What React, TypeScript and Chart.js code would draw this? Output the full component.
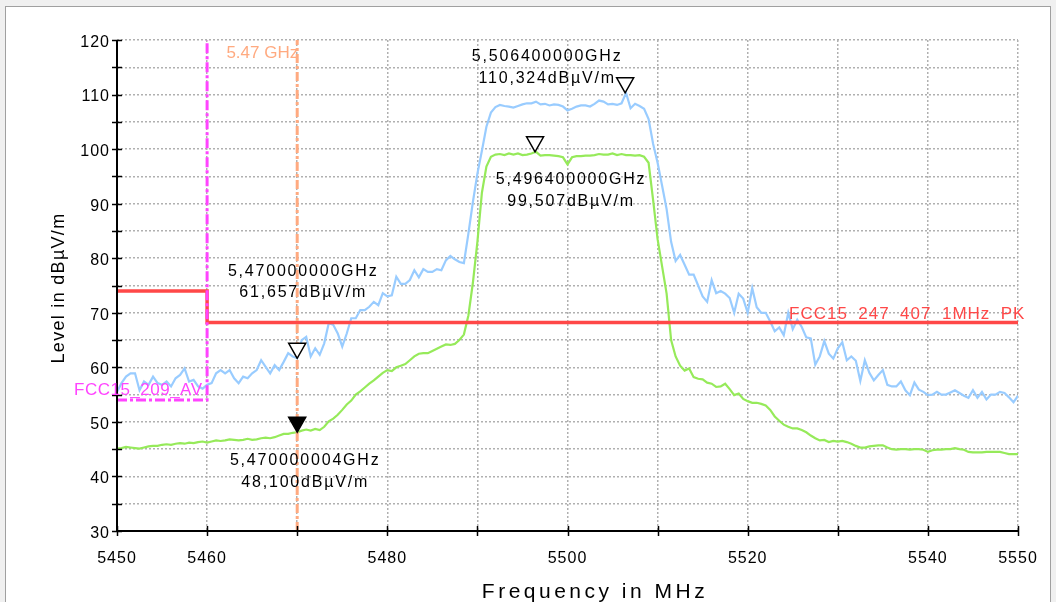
import React, { useEffect, useRef } from 'react';
import { Chart, registerables } from 'chart.js';

Chart.register(...registerables);

// ---------- data ----------
const FREQ_START = 5450; // MHz, first sample
const FREQ_STEP = 0.5; // MHz between samples

// Peak detector trace (dBµV/m), one value per 0.5 MHz from 5450 to 5550 MHz
const PEAK_TRACE = [
  55.5, 57.1, 58.3, 58.9, 58.9, 55.8, 57.4, 56.8, 58.3, 57.1,
  56.8, 57.4, 56.5, 58.0, 58.6, 59.8, 57.4, 57.7, 56.5, 56.1,
  56.8, 57.1, 58.9, 59.5, 58.9, 59.5, 58.0, 57.1, 58.3, 58.0,
  58.9, 59.5, 61.3, 60.1, 58.9, 60.4, 59.5, 61.0, 62.6, 62.0,
  61.7, 65.0, 65.6, 62.0, 63.5, 62.3, 64.4, 68.1, 67.8, 66.2,
  63.8, 66.2, 69.0, 69.0, 70.5, 70.5, 71.1, 72.0, 71.4, 73.6,
  73.0, 73.2, 76.6, 75.3, 75.3, 76.0, 77.8, 76.5, 78.0, 77.5,
  77.5, 78.0, 77.8, 79.6, 80.4, 79.8, 79.3, 79.1, 84.5, 90.3,
  95.5, 99.7, 104.1, 106.7, 107.7, 108.1, 107.9, 107.8, 107.6, 107.9,
  108.2, 108.4, 108.4, 108.7, 108.2, 108.3, 108.0, 108.2, 108.1, 107.8,
  107.1, 107.4, 107.8, 108.0, 108.0, 107.8, 108.3, 108.9, 108.7, 108.2,
  108.3, 108.1, 108.4, 110.3, 107.5, 108.3, 107.9, 107.4, 105.5, 101.0,
  97.5, 93.3, 89.0, 83.0, 79.5, 80.6, 78.8, 77.0, 77.0, 75.0,
  73.0, 72.0, 76.0, 73.6, 74.0, 73.5, 72.7, 70.0, 73.5, 72.6,
  70.0, 74.5, 71.0, 70.0, 70.0, 68.4, 66.6, 67.3, 65.9, 70.0,
  67.0, 68.7, 67.4, 65.5, 65.3, 60.5, 62.0, 64.8, 62.5, 61.6,
  63.5, 64.6, 61.3, 62.0, 61.2, 57.5, 61.3, 59.0, 57.6, 58.6,
  59.5, 56.8, 56.5, 56.5, 57.4, 55.8, 54.9, 57.2, 55.9, 55.5,
  54.9, 55.0, 55.5, 55.0, 55.0, 55.4, 55.8, 55.3, 54.8, 54.4,
  55.8, 54.4, 55.5, 54.1, 55.0, 55.0, 55.5, 55.3, 54.5, 53.6,
  54.8,
];

// Average detector trace (dBµV/m), same sampling
const AVG_TRACE = [
  45.1, 45.2, 45.4, 45.3, 45.2, 45.1, 45.3, 45.5, 45.6, 45.6,
  45.8, 45.9, 45.8, 46.0, 46.1, 46.0, 46.2, 46.1, 46.3, 46.4,
  46.2, 46.4, 46.6, 46.5, 46.6, 46.8, 46.7, 46.6, 46.7, 46.9,
  46.7, 46.8, 47.0, 47.1, 47.0, 47.2, 47.5, 47.8, 47.8, 48.0,
  48.1, 48.4, 48.6, 48.4, 48.7, 48.5, 49.1, 50.1, 50.6, 51.3,
  52.2, 53.2, 53.9, 55.0, 55.6, 56.3, 57.0, 57.6, 58.3, 59.0,
  59.5, 59.3, 60.0, 60.3, 60.6, 61.3, 62.0, 62.5, 62.6, 62.6,
  63.0, 63.4, 63.8, 64.2, 64.1, 64.3, 65.0, 66.0, 69.5, 75.5,
  83.0, 92.0, 96.8, 98.6, 99.0, 99.1, 98.9, 99.2, 99.0, 99.2,
  98.9, 99.0, 99.2, 99.5, 98.8, 98.9, 98.9, 98.8, 98.7, 98.5,
  97.2, 98.5, 98.7, 98.7, 98.8, 98.8, 98.9, 99.1, 99.0, 99.0,
  99.2, 98.9, 99.1, 98.9, 98.9, 98.8, 98.9, 98.6, 97.5, 90.7,
  83.5, 78.5, 73.5, 65.0, 62.0, 60.3, 59.4, 59.8, 58.2, 57.9,
  57.8, 57.2, 57.0, 56.4, 56.5, 57.0, 56.0, 54.9, 55.2, 54.2,
  53.8, 53.5, 53.5, 53.3, 53.0, 52.2, 51.0, 50.2, 49.5, 49.1,
  48.8, 48.8, 48.5, 48.1, 47.5, 47.0, 46.6, 46.7, 46.3, 46.5,
  46.4, 46.5, 46.3, 46.0, 45.6, 45.3, 45.3, 45.5, 45.6, 45.7,
  45.7, 45.3, 45.0, 44.9, 45.0, 45.0, 44.9, 45.0, 45.0, 44.9,
  44.5, 44.8, 44.9, 44.9, 45.0, 45.0, 45.2, 45.0, 44.9, 44.5,
  44.4, 44.4, 44.4, 44.5, 44.5, 44.5, 44.5, 44.3, 44.1, 44.1,
  44.1,
];

const X_MIN = 5450;
const X_MAX = 5550;
const Y_MIN = 30;
const Y_MAX = 120;
const X_TICK_LABELS = [5450, 5460, 5480, 5500, 5520, 5540, 5550];

const PK_LIMIT_NAME = 'FCC15_247_407_1MHz_PK';
const PK_LIMIT_FREQ = [5450, 5460, 5460, 5550];
const PK_LIMIT_LEVEL = [74, 74, 68.2, 68.2];

const AV_LIMIT_NAME = 'FCC15_209_AV';
const AV_LIMIT_FREQ = [5450, 5460, 5460];
const AV_LIMIT_LEVEL = [54, 54, 120];

const EDGE_NAME = '5.47 GHz';
const EDGE_FREQ = 5470;

const MARKER_FREQ = [5506.4, 5496.4, 5470.0, 5470.000004];
const MARKER_LEVEL = [110.324, 99.507, 61.657, 48.1];
const MARKER_FREQ_TEXT = ['5,506400000GHz', '5,496400000GHz', '5,470000000GHz', '5,470000004GHz'];
const MARKER_LEVEL_TEXT = ['110,324dBµV/m', '99,507dBµV/m', '61,657dBµV/m', '48,100dBµV/m'];
const MARKER_FILLED = [false, false, false, true];

// ---------- styles ----------
const FONT = '"Liberation Sans", Arial, sans-serif';
const C_PEAK = '#99ccff';
const C_AVG = '#96ea5a';
const C_RED = '#ff4848';
const C_MAGENTA = '#ff44ff';
const C_ORANGE = '#ffaa80';
// label offsets from marker tip (dx, dy line1, dy line2)
const MARKER_LABEL_OFFSET = [
  [-78, -36, -14],
  [36, 28, 50],
  [6, -87, -66],
  [8, 28, 50],
];

const toPoints = (vals: number[]) => vals.map((v, i) => ({ x: FREQ_START + i * FREQ_STEP, y: v }));
const zipPoints = (xs: number[], ys: number[]) => xs.map((x, i) => ({ x, y: ys[i] }));

const overlay = {
  id: 'overlay',
  beforeDraw(chart: any) {
    (chart.ctx as any).letterSpacing = '1px';
  },
  afterDraw(chart: any) {
    const ctx = chart.ctx as CanvasRenderingContext2D & { letterSpacing: string };
    const xs = chart.scales.x;
    const ys = chart.scales.y;
    const area = chart.chartArea;

    // axes with crossing ticks
    ctx.save();
    ctx.strokeStyle = '#000';
    ctx.lineWidth = 2;
    ctx.beginPath();
    ctx.moveTo(area.left, area.top);
    ctx.lineTo(area.left, area.bottom);
    ctx.lineTo(area.right, area.bottom);
    ctx.stroke();
    ctx.lineWidth = 1.5;
    for (let v = Y_MIN; v <= Y_MAX; v += 5) {
      const py = Math.round(ys.getPixelForValue(v)) + 0.5;
      ctx.beginPath();
      ctx.moveTo(area.left - 5, py);
      ctx.lineTo(area.left + 5, py);
      ctx.stroke();
    }
    for (let f = X_MIN; f <= X_MAX; f += 10) {
      const px = Math.round(xs.getPixelForValue(f)) + 0.5;
      ctx.beginPath();
      ctx.moveTo(px, area.bottom - 5);
      ctx.lineTo(px, area.bottom + 5);
      ctx.stroke();
    }
    ctx.restore();

    // limit / edge labels
    ctx.save();
    ctx.textBaseline = 'alphabetic';
    ctx.font = `17px ${FONT}`;
    ctx.letterSpacing = '1px';
    ctx.fillStyle = C_RED;
    ctx.textAlign = 'left';
    ctx.fillText(PK_LIMIT_NAME, 789, ys.getPixelForValue(PK_LIMIT_LEVEL[3]) - 3.5);
    ctx.letterSpacing = '0.5px';
    ctx.fillStyle = C_MAGENTA;
    ctx.fillText(AV_LIMIT_NAME, 74, ys.getPixelForValue(AV_LIMIT_LEVEL[0]) - 5.5);
    ctx.letterSpacing = '0px';
    ctx.fillStyle = C_ORANGE;
    ctx.textAlign = 'right';
    ctx.font = `17px ${FONT}`;
    ctx.fillText(EDGE_NAME, xs.getPixelForValue(EDGE_FREQ) + 1, area.top + 18);
    ctx.restore();

    // markers
    ctx.save();
    MARKER_FREQ.forEach((f, i) => {
      const px = xs.getPixelForValue(f);
      const py = ys.getPixelForValue(MARKER_LEVEL[i]);
      ctx.beginPath();
      ctx.moveTo(px, py);
      ctx.lineTo(px - 8.5, py - 15);
      ctx.lineTo(px + 8.5, py - 15);
      ctx.closePath();
      ctx.fillStyle = MARKER_FILLED[i] ? '#000' : '#fff';
      ctx.fill();
      ctx.lineWidth = 1.5;
      ctx.strokeStyle = '#000';
      ctx.stroke();
      const [dx, dy1, dy2] = MARKER_LABEL_OFFSET[i];
      ctx.fillStyle = '#000';
      ctx.font = `16px ${FONT}`;
      ctx.letterSpacing = '1.8px';
      ctx.textAlign = 'center';
      ctx.textBaseline = 'middle';
      ctx.fillText(MARKER_FREQ_TEXT[i], px + dx, py + dy1);
      ctx.fillText(MARKER_LEVEL_TEXT[i], px + dx, py + dy2);
    });
    ctx.restore();

    // axis titles
    ctx.save();
    ctx.fillStyle = '#000';
    ctx.font = `21px ${FONT}`;
    ctx.letterSpacing = '3.5px';
    ctx.textAlign = 'center';
    ctx.textBaseline = 'alphabetic';
    ctx.fillText('Frequency in MHz', 595, 598);
    ctx.translate(64, 288);
    ctx.rotate(-Math.PI / 2);
    ctx.font = `18px ${FONT}`;
    ctx.letterSpacing = '1.3px';
    ctx.fillText('Level in dBµV/m', 0, 0);
    ctx.restore();
  },
};

export default function App() {
  const ref = useRef<HTMLCanvasElement>(null);

  useEffect(() => {
    const canvas = ref.current;
    if (!canvas) return;
    Chart.defaults.font.family = FONT;
    const chart = new Chart(canvas, {
      type: 'line',
      data: {
        datasets: [
          {
            label: EDGE_NAME,
            data: [{ x: EDGE_FREQ, y: Y_MIN }, { x: EDGE_FREQ, y: Y_MAX }],
            borderColor: C_ORANGE,
            borderWidth: 3,
            borderDash: [9, 3, 3, 3],
            pointRadius: 0,
            order: 0,
          },
          {
            label: AV_LIMIT_NAME,
            data: zipPoints(AV_LIMIT_FREQ, AV_LIMIT_LEVEL),
            borderColor: C_MAGENTA,
            borderWidth: 3,
            borderDash: [10, 3, 3, 3],
            pointRadius: 0,
            order: 1,
          },
          {
            label: PK_LIMIT_NAME,
            data: zipPoints(PK_LIMIT_FREQ, PK_LIMIT_LEVEL),
            borderColor: C_RED,
            borderWidth: 3.5,
            pointRadius: 0,
            order: 2,
          },
          {
            label: 'AV',
            data: toPoints(AVG_TRACE),
            borderColor: C_AVG,
            borderWidth: 2.2,
            pointRadius: 0,
            order: 3,
          },
          {
            label: 'PK',
            data: toPoints(PEAK_TRACE),
            borderColor: C_PEAK,
            borderWidth: 2.2,
            pointRadius: 0,
            order: 4,
          },
        ],
      },
      options: {
        animation: false,
        responsive: false,
        devicePixelRatio: 1,
        events: [],
        layout: { padding: { left: 50, top: 40, right: 38, bottom: 0 } },
        plugins: { legend: { display: false }, tooltip: { enabled: false }, title: { display: false } },
        elements: { line: { tension: 0, fill: false } },
        scales: {
          x: {
            type: 'linear',
            min: X_MIN,
            max: X_MAX,
            afterFit: (s: any) => { s.height = 71; },
            grid: { color: '#b0b0b0', lineWidth: 1.5, drawTicks: false },
            border: { display: false, dash: [2, 2] },
            ticks: {
              stepSize: 10,
              autoSkip: false,
              maxRotation: 0,
              padding: 18,
              color: '#000',
              font: { size: 16, family: FONT },
              callback: (v: any) => (X_TICK_LABELS.includes(Number(v)) ? String(v) : ''),
            },
          },
          y: {
            type: 'linear',
            min: Y_MIN,
            max: Y_MAX,
            afterFit: (s: any) => { s.width = 67; },
            grid: { color: '#b0b0b0', lineWidth: 1.5, drawTicks: false },
            border: { display: false, dash: [2, 2] },
            ticks: {
              stepSize: 5,
              autoSkip: false,
              padding: 7,
              labelOffset: 2.5,
              color: '#000',
              font: { size: 16, family: FONT },
              callback: (v: any) => (Number(v) % 10 === 0 ? String(v) : ''),
            },
          },
        },
      },
      plugins: [overlay],
    } as any);
    return () => chart.destroy();
  }, []);

  return (
    <div style={{ position: 'fixed', left: 0, top: 0, width: 1056, height: 602, background: '#f0f0f0', overflow: 'hidden' }}>
      <div
        style={{
          position: 'absolute',
          left: 5,
          top: 6,
          width: 1046,
          height: 620,
          background: '#ffffff',
          border: '1px solid #a0a0a0',
          boxSizing: 'border-box',
        }}
      />
      <canvas
        ref={ref}
        width={1056}
        height={602}
        style={{ position: 'absolute', left: 0, top: 0, width: 1056, height: 602 }}
      />
    </div>
  );
}
